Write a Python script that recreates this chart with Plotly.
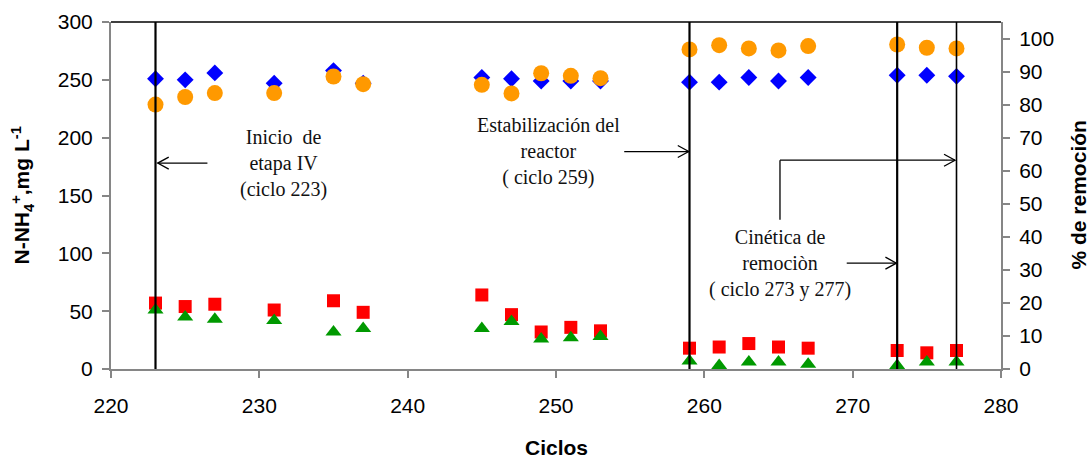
import plotly.graph_objects as go

# ciclos (x)
ciclos = [223, 225, 227, 231, 235, 237, 245, 247, 249, 251, 253,
          259, 261, 263, 265, 267, 273, 275, 277]

# N-NH4+ influente (mg/L) - rombos azules
influente = [251, 250, 256, 247, 258, 247, 252, 251, 249, 249, 249,
             248, 248, 252, 249, 252, 254, 254, 253]
# N-NH4+ efluente (mg/L) - cuadrados rojos
efluente = [57, 54, 56, 51, 59, 49, 64, 47, 32, 36, 33,
            18, 19, 22, 19, 18, 16, 14, 16]
# otra serie (mg/L) - triangulos verdes
verde = [51, 45, 43, 42, 32, 35, 35, 41, 26, 27, 28,
         7, 3, 6, 6, 4, 3, 6, 6]
# % de remocion - circulos naranja
remocion = [80, 82.3, 83.5, 83.5, 88.5, 86.2, 86, 83.4, 89.5, 88.7, 88,
            96.7, 98, 97, 96.4, 97.7, 98.2, 97.2, 97]

# eventos (lineas verticales)
eventos = [223, 259, 273, 277]

fig = go.Figure()

fig.add_trace(go.Scatter(x=ciclos, y=influente, mode="markers",
                         marker=dict(symbol="diamond", size=13, color="#0000FF")))
fig.add_trace(go.Scatter(x=ciclos, y=efluente, mode="markers",
                         marker=dict(symbol="square", size=13, color="#FF0000")))
fig.add_trace(go.Scatter(x=ciclos, y=verde, mode="markers",
                         marker=dict(symbol="triangle-up", size=14, color="#009900")))
fig.add_trace(go.Scatter(x=ciclos, y=remocion, mode="markers", yaxis="y2",
                         marker=dict(symbol="circle", size=16, color="#FF9900")))

# vertical lines
for i, e in enumerate(eventos):
    fig.add_shape(type="line", xref="x", yref="paper", x0=e, x1=e, y0=0, y1=1,
                  line=dict(color="black", width=1.6 if i == 3 else 2.2))

# top border
fig.add_shape(type="line", xref="paper", yref="paper", x0=0, x1=1, y0=1, y1=1,
              line=dict(color="black", width=1.5))

# pixel to data helpers for arrowheads
px_x = 60 / 890
px_y = 300 / 347


def arrow(x0, x1, y, direction):
    # horizontal line + open "V" head
    fig.add_shape(type="line", xref="x", yref="y", x0=x0, x1=x1, y0=y, y1=y,
                  line=dict(color="black", width=1.3))
    d = 11 * px_x * direction
    h = 6 * px_y
    fig.add_shape(type="path", xref="x", yref="y",
                  path=f"M {x1 - d},{y + h} L {x1},{y} L {x1 - d},{y - h}",
                  line=dict(color="black", width=1.3))


serif = dict(family="Liberation Serif, Times New Roman, serif", size=20, color="#111")

fig.add_annotation(x=231.6, y=178, xref="x", yref="y", showarrow=False,
                   text="Inicio  de<br>etapa IV<br>(ciclo 223)", font=serif, align="center")
arrow(226.5, 223.15, 178, -1)

fig.add_annotation(x=249.5, y=188, xref="x", yref="y", showarrow=False,
                   text="Estabilización del<br>reactor<br>( ciclo 259)", font=serif, align="center")
arrow(254.6, 258.95, 188, 1)

fig.add_annotation(x=265.1, y=91.5, xref="x", yref="y", showarrow=False,
                   text="Cinética de<br>remociòn<br>( ciclo 273 y 277)", font=serif, align="center")
arrow(269.6, 272.95, 91.5, 1)
# bent arrow to 277
fig.add_shape(type="line", xref="x", yref="y", x0=265.1, x1=265.1, y0=129, y1=180.5,
              line=dict(color="black", width=1.3))
arrow(265.1, 276.9, 180.5, 1)

tickfont = dict(family="Liberation Sans, Arial, sans-serif", size=21, color="black")
titlefont = dict(family="Liberation Sans, Arial, sans-serif", size=21, color="black")

# axis titles as annotations (exact placement)
fig.add_annotation(x=(22 - 111) / 890, y=0.5, xref="paper", yref="paper", showarrow=False,
                   xanchor="center", yanchor="middle", textangle=-90, font=titlefont,
                   text="<b>N-NH<sub>4</sub><sup>+</sup>,mg L<sup>-1</sup></b>")
fig.add_annotation(x=(1078 - 111) / 890, y=0.5, xref="paper", yref="paper", showarrow=False,
                   xanchor="center", yanchor="middle", textangle=-90, font=titlefont,
                   text="<b>% de remoción</b>")
fig.add_annotation(x=0.5, y=-(447 - 369) / 347, xref="paper", yref="paper", showarrow=False,
                   xanchor="center", yanchor="middle", font=titlefont, text="<b>Ciclos</b>")

axis_common = dict(showgrid=False, zeroline=False, automargin=False,
                   showline=True, linecolor="#868686", linewidth=2,
                   ticks="outside", ticklen=7, tickcolor="#868686", tickwidth=1.5,
                   tickfont=tickfont)

fig.update_layout(
    width=1088, height=460,
    margin=dict(l=111, r=87, t=22, b=91),
    paper_bgcolor="white", plot_bgcolor="white",
    showlegend=False,
    xaxis=dict(range=[220, 280], dtick=10, tick0=220, ticklabelstandoff=10, **axis_common),
    yaxis=dict(range=[0, 300], dtick=50, ticklabelstandoff=5, **axis_common),
    yaxis2=dict(range=[0, 105], dtick=10, overlaying="y", side="right",
                ticklabelstandoff=5, **axis_common),
)

# drop the default page margin so the figure sits at the window origin
fig.write_html("out.html", config={"displayModeBar": False},
               post_script="document.body.style.margin='0';")
